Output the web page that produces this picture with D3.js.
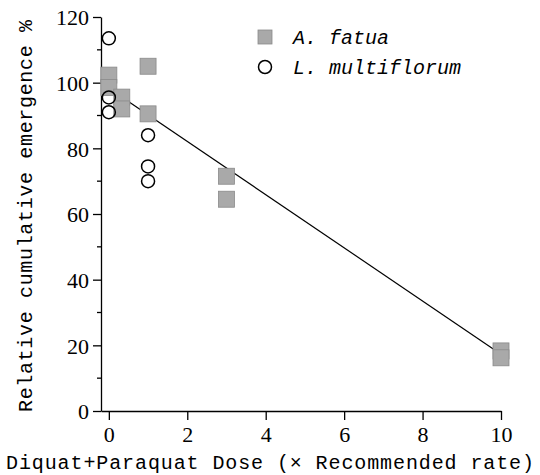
<!DOCTYPE html>
<html>
<head>
    <meta charset="utf-8">
    <script src="https://d3js.org/d3.v7.min.js"></script>
    <style>
        body { margin: 0; background: #fff; }
    </style>
</head>
<body>
    <script>
        // A. fatua (grey squares)
        var fatuaDose = [0, 0, 0.33, 0.33, 1, 1, 3, 3, 10, 10];
        var fatuaVal  = [102.3, 98.5, 95.6, 92, 105, 90.5, 71.5, 64.5, 18.3, 16.2];

        // L. multiflorum (open circles)
        var multiDose = [0, 0, 0, 1, 1, 1];
        var multiVal  = [113.5, 95.5, 91, 84, 74.5, 70];

        // fitted line
        var lineDose = [0, 10];
        var lineVal  = [98.3, 17.3];

        var xTicks = [0, 2, 4, 6, 8, 10];
        var yTicks = [0, 20, 40, 60, 80, 100, 120];
        var yMinor = [10, 30, 50, 70, 90, 110];

        var legendNames = ["A. fatua", "L. multiflorum"];

        var width = 540, height = 475;

        var svg = d3.select("body").append("svg")
            .attr("width", width)
            .attr("height", height);

        var x = d3.scaleLinear().domain([-0.2, 10]).range([101, 501]);
        var y = d3.scaleLinear().domain([0, 120]).range([411, 17]);

        var numFont = "'Liberation Serif', 'Times New Roman', serif";
        var monoFont = "'Liberation Mono', 'DejaVu Sans Mono', monospace";

        // y axis
        var yAxis = svg.append("g")
            .attr("transform", "translate(101,0)")
            .call(d3.axisLeft(y).tickValues(yTicks).tickSize(8).tickPadding(4).tickSizeOuter(0));
        yAxis.selectAll("text")
            .style("font-family", numFont)
            .style("font-size", "22px")
            .attr("dy", "0.35em");
        yAxis.selectAll("line, path").attr("stroke", "#000").attr("stroke-width", 1.3);

        svg.append("g")
            .selectAll("line")
            .data(yMinor)
            .enter().append("line")
            .attr("x1", 97).attr("x2", 101)
            .attr("y1", d => y(d)).attr("y2", d => y(d))
            .attr("stroke", "#000").attr("stroke-width", 1.3);

        // x axis
        var xAxis = svg.append("g")
            .attr("transform", "translate(0,411)")
            .call(d3.axisBottom(x).tickValues(xTicks).tickSize(9).tickPadding(6).tickSizeOuter(0));
        xAxis.selectAll("text")
            .style("font-family", numFont)
            .style("font-size", "22px");
        xAxis.selectAll("line, path").attr("stroke", "#000").attr("stroke-width", 1.3);

        // axis titles
        svg.append("text")
            .attr("x", 270).attr("y", 469)
            .attr("text-anchor", "middle")
            .style("font-family", monoFont)
            .style("font-size", "20px")
            .attr("textLength", 528)
            .text("Diquat+Paraquat Dose (\u00d7 Recommended rate)");

        svg.append("text")
            .attr("transform", "translate(32,216) rotate(-90)")
            .attr("text-anchor", "middle")
            .style("font-family", monoFont)
            .style("font-size", "20px")
            .attr("textLength", 392)
            .text("Relative cumulative emergence %");

        // fitted line
        var line = d3.line().x(d => x(d[0])).y(d => y(d[1]));
        svg.append("path")
            .datum(d3.zip(lineDose, lineVal))
            .attr("d", line)
            .attr("fill", "none")
            .attr("stroke", "#000")
            .attr("stroke-width", 1.2);

        // squares
        var sq = 16;
        svg.append("g")
            .selectAll("rect")
            .data(d3.zip(fatuaDose, fatuaVal))
            .enter().append("rect")
            .attr("x", d => x(d[0]) - sq / 2)
            .attr("y", d => y(d[1]) - sq / 2)
            .attr("width", sq).attr("height", sq)
            .attr("fill", "#a9a9a9")
            .attr("stroke", "#8a8a8a")
            .attr("stroke-width", 0.8);

        // circles
        svg.append("g")
            .selectAll("circle")
            .data(d3.zip(multiDose, multiVal))
            .enter().append("circle")
            .attr("cx", d => x(d[0]))
            .attr("cy", d => y(d[1]))
            .attr("r", 6.5)
            .attr("fill", "none")
            .attr("stroke", "#000")
            .attr("stroke-width", 1.5);

        // legend
        var leg = svg.append("g");
        leg.append("rect")
            .attr("x", 258).attr("y", 30).attr("width", 14).attr("height", 14)
            .attr("fill", "#a9a9a9").attr("stroke", "#8a8a8a").attr("stroke-width", 0.8);
        leg.append("circle")
            .attr("cx", 265).attr("cy", 67).attr("r", 6.5)
            .attr("fill", "none").attr("stroke", "#000").attr("stroke-width", 1.5);
        leg.selectAll("text")
            .data(legendNames)
            .enter().append("text")
            .attr("x", 293)
            .attr("y", (d, i) => 44 + i * 30)
            .style("font-family", monoFont)
            .style("font-size", "20px")
            .style("font-style", "italic")
            .text(d => d);
    </script>
</body>
</html>
